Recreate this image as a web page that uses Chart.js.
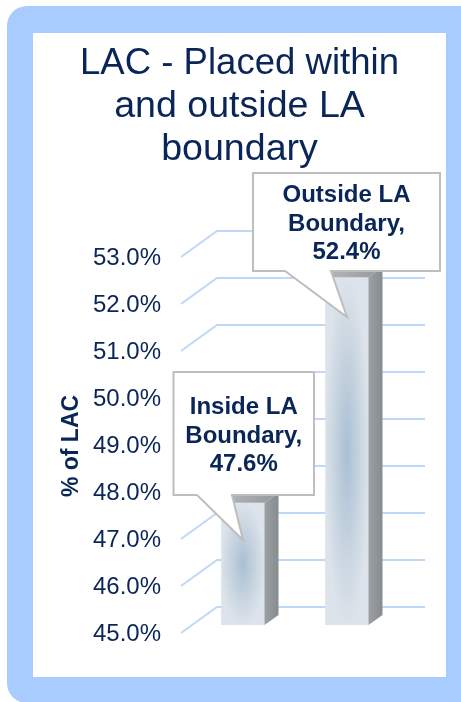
<!DOCTYPE html>
<html>
<head>
<meta charset="utf-8">
<script src="https://cdn.jsdelivr.net/npm/chart.js@4"></script>
<style>
html,body{margin:0;padding:0;background:#fff;width:461px;height:702px;overflow:hidden}
#panel{position:absolute;left:7px;top:6px;width:490px;height:697px;background:#A8CCFE;border-radius:20px}
#inner{position:absolute;left:33px;top:33px;width:413px;height:644px;background:#fff}
canvas{display:block}
</style>
</head>
<body>
<div id="panel"></div>
<div id="inner"><canvas id="c" width="413" height="644"></canvas></div>
<script>
const titleLines = ["LAC - Placed within", "and outside LA", "boundary"];
const categories = [["Inside LA", "Boundary,"], ["Outside LA", "Boundary,"]];
const values = [47.6, 52.4];
const axisTitle = "% of LAC";
const axisMin = 45, axisMax = 53, axisStep = 1;

const NAVY = "#0A2557", FONT = "'Liberation Sans', Arial, sans-serif";
const DX = 14, DY = 10;           // bar depth
const GRID_X0 = 148, GRID_X1 = 184, GRID_X2 = 392, GRID_BACK = 18, GRID_FRONT = 8;
const callouts = [
  {box:[140.5,339,281,462], tail:[164,199,210,507], text:[374,403,431]},
  {box:[220,140,407,238], tail:[252,298,314,284], text:[162,191,219]}
];

function barPattern(chart, i) {
  const x = chart.scales.x.getPixelForValue(i), yt = chart.scales.y.getPixelForValue(values[i]);
  const yb = chart.scales.y.getPixelForValue(axisMin), w = 22;
  const off = document.createElement("canvas");
  off.width = chart.width; off.height = chart.height;
  const g = off.getContext("2d");
  g.fillStyle = "#DCE3EA"; g.fillRect(0, 0, off.width, off.height);
  g.save();
  g.translate(x, (yt + yb) / 2); g.scale(1, (yb - yt) / 2 / w);
  const r = g.createRadialGradient(0, 0, 0, 0, 0, w);
  r.addColorStop(0, "#A9BFD4"); r.addColorStop(0.55, "#C6D3DF"); r.addColorStop(1, "#DCE3EA");
  g.fillStyle = r; g.fillRect(-w, -w, 2 * w, 2 * w);
  g.restore();
  return chart.ctx.createPattern(off, "no-repeat");
}

const scene = {
  id: "scene",
  beforeDatasetsDraw(chart) {
    const c = chart.ctx, y = chart.scales.y;
    c.save(); c.strokeStyle = "#BFD7F9"; c.lineWidth = 2;
    y.ticks.forEach(t => {
      const p = y.getPixelForValue(t.value);
      c.beginPath();
      c.moveTo(GRID_X0, p + GRID_FRONT);
      c.lineTo(GRID_X1, p - GRID_BACK);
      c.lineTo(GRID_X2, p - GRID_BACK);
      c.stroke();
    });
    c.restore();
  },
  afterDatasetsDraw(chart) {
    const c = chart.ctx, y = chart.scales.y, floor = y.getPixelForValue(axisMin);
    chart.getDatasetMeta(0).data.forEach(b => {
      const l = b.x - b.width / 2, r = b.x + b.width / 2, t = b.y;
      let g = c.createLinearGradient(r, 0, r + DX, 0);
      g.addColorStop(0, "#9BA0A4"); g.addColorStop(1, "#868C90");
      c.fillStyle = g; c.beginPath();
      c.moveTo(r, t); c.lineTo(r + DX, t - DY); c.lineTo(r + DX, floor - DY); c.lineTo(r, floor); c.closePath(); c.fill();
      g = c.createLinearGradient(l, 0, r + DX, 0);
      g.addColorStop(0, "#B4B7BA"); g.addColorStop(1, "#94989C");
      c.fillStyle = g; c.beginPath();
      c.moveTo(l, t); c.lineTo(l + DX, t - DY); c.lineTo(r + DX, t - DY); c.lineTo(r, t); c.closePath(); c.fill();
    });
    callouts.forEach((k, i) => {
      const [x0, y0, x1, y1] = k.box, [a, b, tx, ty] = k.tail;
      c.beginPath();
      c.moveTo(x0, y0); c.lineTo(x1, y0); c.lineTo(x1, y1); c.lineTo(b, y1);
      c.lineTo(tx, ty); c.lineTo(a, y1); c.lineTo(x0, y1); c.closePath();
      c.fillStyle = "#fff"; c.fill();
      c.strokeStyle = "#BEBEBE"; c.lineWidth = 2; c.stroke();
      c.fillStyle = NAVY; c.font = "bold 24px " + FONT;
      c.textAlign = "center"; c.textBaseline = "middle";
      const lines = [...categories[i], values[i].toFixed(1) + "%"];
      lines.forEach((s, j) => c.fillText(s, (x0 + x1) / 2, k.text[j]));
    });
    c.save();
    c.translate(39, 413); c.rotate(-Math.PI / 2);
    c.fillStyle = NAVY; c.font = "bold 23px " + FONT;
    c.textAlign = "center"; c.textBaseline = "middle";
    c.fillText(axisTitle, 0, 0);
    c.restore();
  }
};

new Chart(document.getElementById("c"), {
  type: "bar",
  data: {
    labels: categories,
    datasets: [{
      data: values,
      barThickness: 43,
      backgroundColor: ctx => barPattern(ctx.chart, ctx.dataIndex),
      borderWidth: 0
    }]
  },
  options: {
    responsive: false,
    animation: false,
    layout: {padding: {left: 47, right: 47, bottom: 44, top: 0}},
    plugins: {
      legend: {display: false},
      tooltip: {enabled: false},
      title: {
        display: true,
        text: titleLines,
        color: NAVY,
        font: {family: FONT, size: 37.6, weight: "normal", lineHeight: 1.1436},
        padding: {top: 9, bottom: 78}
      }
    },
    scales: {
      x: {
        grid: {display: false},
        border: {display: false},
        ticks: {display: false}
      },
      y: {
        min: axisMin, max: axisMax,
        afterFit(s) { s.width = 111; },
        grid: {display: false, drawTicks: false},
        border: {display: false},
        ticks: {
          stepSize: axisStep, color: NAVY, padding: 30, labelOffset: 9,
          font: {family: FONT, size: 24},
          callback: v => v.toFixed(1) + "%"
        }
      }
    }
  },
  plugins: [scene]
});
</script>
</body>
</html>
